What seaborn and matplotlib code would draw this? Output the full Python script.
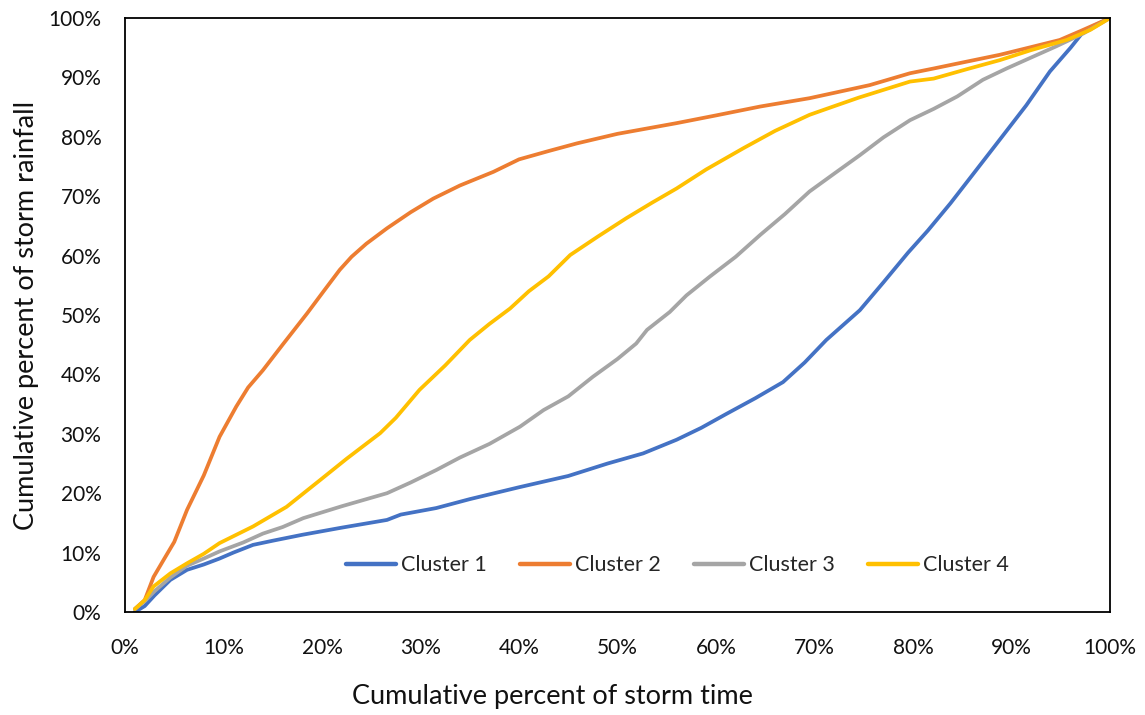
import numpy as np
import pandas as pd
import matplotlib
matplotlib.use("Agg")
import matplotlib.pyplot as plt
from matplotlib.ticker import FuncFormatter
import seaborn as sns

# cumulative percent of storm time (x) vs cumulative percent of storm rainfall (y)
c1_x = [1, 2, 3, 4.6, 6.3, 8, 9.6, 11, 13, 15, 18, 22, 26.6, 28, 31.6, 35, 40, 45, 49, 52.6,
        56, 58.5, 61, 64, 66.8, 69, 71.2, 74.6, 77, 79.5, 81.5, 83.8, 86, 88.8, 91.5, 93.9,
        96, 97.3, 98.5, 100]
c1_y = [0, 1, 2.8, 5.4, 7.1, 8.0, 9.0, 10, 11.3, 12.0, 13.0, 14.2, 15.5, 16.4, 17.5, 19.0,
        21.0, 22.9, 25.0, 26.7, 29.0, 31.0, 33.3, 36.0, 38.7, 42, 45.8, 50.8, 55.5, 60.5,
        64.2, 68.8, 73.5, 79.5, 85.3, 91.0, 95, 97.7, 98.8, 100]

c2_x = [1, 2, 2.9, 4, 5, 6.3, 8, 9.6, 11.3, 12.5, 14, 16, 18.5, 20.3, 21.8, 23, 24.5, 26.6,
        29, 31.3, 34, 37.4, 40, 43, 45.9, 50, 53, 56, 60, 64.5, 69.5, 72, 75.6, 79.7, 82.1,
        85, 88.8, 91.5, 94.9, 97, 100]
c2_y = [0.5, 2, 5.9, 9, 11.8, 17.2, 23, 29.5, 34.6, 37.8, 40.7, 45.0, 50.3, 54.3, 57.6,
        59.8, 62.0, 64.6, 67.3, 69.6, 71.8, 74.1, 76.2, 77.6, 78.9, 80.5, 81.4, 82.3, 83.6,
        85.1, 86.5, 87.4, 88.7, 90.7, 91.5, 92.5, 93.8, 94.9, 96.3, 97.8, 100]

c3_x = [1, 2, 3, 4.6, 6.3, 8, 9.6, 12, 14, 16, 18.1, 22, 26.6, 29, 31.6, 34, 37, 40.1,
        42.5, 45, 47.5, 50, 51.9, 53, 55.3, 57, 59.4, 62, 64.5, 67, 69.5, 72, 74.6, 77,
        79.7, 82.1, 84.5, 87.1, 89.5, 92.2, 94.5, 97.3, 100]
c3_y = [0.5, 1.8, 3.5, 5.8, 7.8, 9.0, 10.2, 11.7, 13.2, 14.3, 15.8, 17.8, 20.0, 21.8,
        23.9, 26.0, 28.3, 31.2, 34.0, 36.3, 39.6, 42.6, 45.2, 47.5, 50.5, 53.3, 56.5,
        59.8, 63.5, 67.0, 70.8, 73.8, 76.9, 79.9, 82.8, 84.7, 86.8, 89.6, 91.5, 93.5,
        95.2, 97.4, 100]

c4_x = [1, 2, 2.9, 4.6, 6.3, 8, 9.6, 11.3, 13, 16.4, 19.8, 22.5, 25.9, 27.5, 29.9, 32.5,
        35, 37, 39.1, 41, 43, 45.2, 48, 50.9, 53.5, 56, 59, 62.8, 66, 69.5, 71.9, 74.5, 77,
        79.7, 82.1, 85.5, 88.8, 92, 95.6, 98, 100]
c4_y = [0.5, 2.0, 4.3, 6.5, 8.2, 9.8, 11.6, 13.0, 14.4, 17.7, 22.2, 25.8, 30.1, 32.7,
        37.4, 41.5, 45.8, 48.5, 51.1, 54.0, 56.5, 60.1, 63.2, 66.3, 68.9, 71.3, 74.5,
        78.1, 81.0, 83.7, 85.1, 86.6, 87.9, 89.3, 89.8, 91.4, 92.9, 94.6, 96.3, 98.0, 100]

names = ["Cluster 1", "Cluster 2", "Cluster 3", "Cluster 4"]
colors = ["#4472C4", "#ED7D31", "#A5A5A5", "#FFC000"]
ticks = list(range(0, 101, 10))

frames = []
for name, xs, ys in zip(names, [c1_x, c2_x, c3_x, c4_x], [c1_y, c2_y, c3_y, c4_y]):
    frames.append(pd.DataFrame({"time": xs, "rain": ys, "cluster": name}))
df = pd.concat(frames, ignore_index=True)

sns.set_style("white")
plt.rcParams["font.family"] = ["Lato", "DejaVu Sans"]

fig = plt.figure(figsize=(11.45, 7.15), dpi=100)
ax = fig.add_axes([125 / 1145, 103 / 715, 985 / 1145, 594 / 715])

sns.lineplot(data=df, x="time", y="rain", hue="cluster", palette=colors,
             sort=False, estimator=None, linewidth=2.7, ax=ax, legend=False)
for line in ax.lines:
    line.set_solid_capstyle("round")
    line.set_solid_joinstyle("round")

ax.set_xlim(0, 100)
ax.set_ylim(0, 100)
ax.set_xticks(ticks)
ax.set_yticks(ticks)
pct = FuncFormatter(lambda v, p: f"{v:.0f}%")
ax.xaxis.set_major_formatter(pct)
ax.yaxis.set_major_formatter(pct)
ax.tick_params(axis="both", length=0, labelsize=15, labelcolor="#111111")
ax.tick_params(axis="x", pad=19)
ax.tick_params(axis="y", pad=17)

for s in ax.spines.values():
    s.set_color("black")
    s.set_linewidth(1.3)

ax.set_xlabel("Cumulative percent of storm time", fontsize=19.5, color="#111111", va="center")
ax.xaxis.set_label_coords(0.434, -0.143)
ax.set_ylabel("Cumulative percent of storm rainfall", fontsize=19.5, color="#111111", va="center")
ax.yaxis.set_label_coords(-0.0995, 0.5)

handles = [plt.Line2D([], [], color=c, lw=3.2, solid_capstyle="round") for c in colors]
ax.legend(handles, names, loc="center", bbox_to_anchor=(0.561, 0.079), ncol=4,
          frameon=False, fontsize=15.5, handlelength=2.3, handletextpad=0.25,
          columnspacing=1.55)

plt.savefig("out.png", dpi=100)
